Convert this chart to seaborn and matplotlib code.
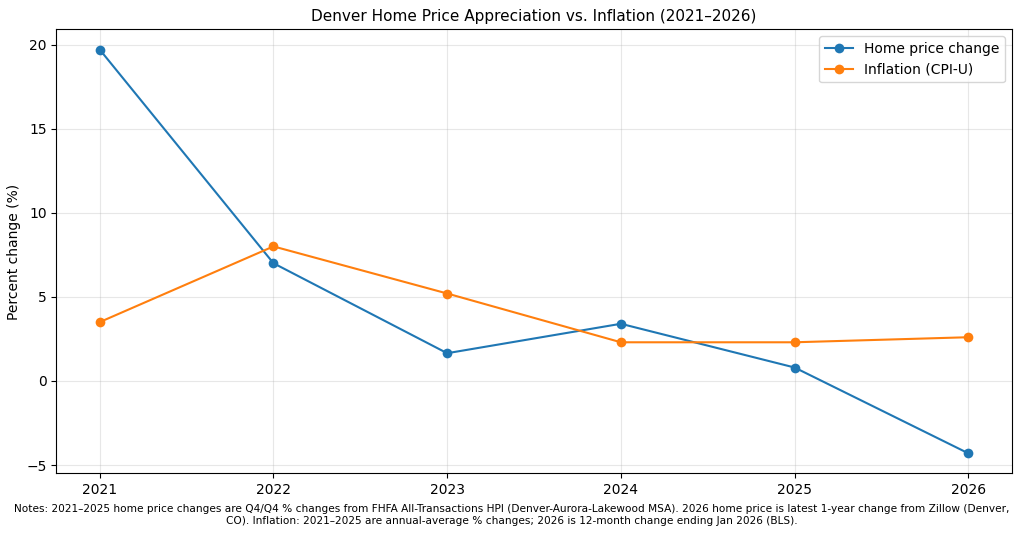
import matplotlib
matplotlib.use("Agg")
import matplotlib.pyplot as plt
import seaborn as sns
import pandas as pd

years = [2021, 2022, 2023, 2024, 2025, 2026]
home_price_change = [19.7, 7.0, 1.65, 3.4, 0.8, -4.3]
inflation = [3.5, 8.0, 5.2, 2.3, 2.3, 2.6]

df = pd.DataFrame({
    "Year": years * 2,
    "Value": home_price_change + inflation,
    "Series": ["Home price change"] * len(years) + ["Inflation (CPI-U)"] * len(years),
})

plt.rcParams['font.family'] = ['DejaVu Sans']
fig, ax = plt.subplots(figsize=(10.24, 5.35), dpi=100)
sns.lineplot(data=df, x="Year", y="Value", hue="Series", marker="o",
             markersize=7, markeredgewidth=0, linewidth=1.5,
             palette=["#1f77b4", "#ff7f0e"], ax=ax)
ax.set_title("Denver Home Price Appreciation vs. Inflation (2021–2026)", fontsize=11)
ax.set_xlabel("")
ax.set_ylabel("Percent change (%)")
ax.set_xticks(years)
ax.grid(True, alpha=0.3)
ax.legend(title=None, loc="upper right")
fig.text(0.5, 0.017,
         "Notes: 2021–2025 home price changes are Q4/Q4 % changes from FHFA All-Transactions HPI (Denver-Aurora-Lakewood MSA). 2026 home price is latest 1-year change from Zillow (Denver,\nCO). Inflation: 2021–2025 are annual-average % changes; 2026 is 12-month change ending Jan 2026 (BLS).",
         ha="center", va="bottom", fontsize=7.6)
fig.subplots_adjust(left=0.055, right=0.988, top=0.945, bottom=0.115)
fig.savefig("out.png", dpi=100)
